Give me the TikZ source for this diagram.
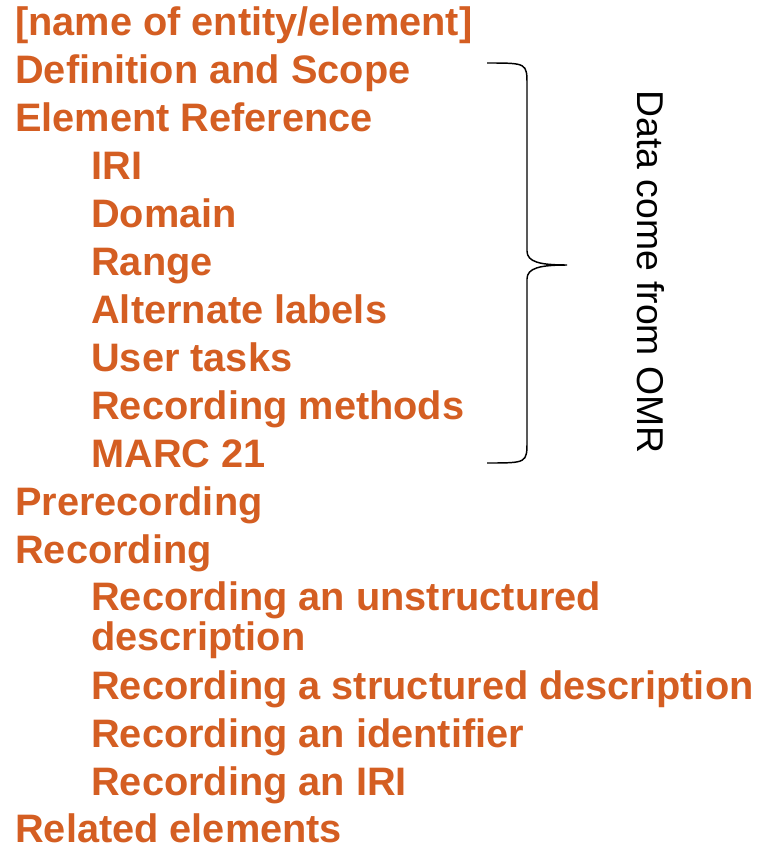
\documentclass[tikz,border=0pt]{standalone}
\usepackage{fontspec}
\setmainfont{Liberation Sans}
\usetikzlibrary{positioning}
\definecolor{omrorange}{HTML}{D45E22}
\definecolor{omrink}{HTML}{000000}
\tikzset{
  omrtext/.style={anchor=base west, inner sep=0pt, text=omrorange,
    font=\fontsize{29.8}{36}\selectfont\bfseries},
  omrwrap/.style={omrtext, align=left,
    font=\fontsize{29.8}{29.3}\selectfont\bfseries},
  omrbrace/.style={draw=omrink, line width=1.1pt},
  omrnote/.style={font=\fontsize{28}{33}\selectfont, text=omrink,
    rotate=-90, inner sep=0pt},
}

\begin{document}
\begin{tikzpicture}[x=0.75pt, y=-0.75pt]
  \useasboundingbox (0,0) rectangle (760,846);
  % top level entries
  \node[omrtext] (name) at (15,35) {[name of entity/element]};
  \node[omrtext] (defscope) at (15,83) {Definition and Scope};
  \node[omrtext] (elemref) at (15,131) {Element Reference};
  % element reference data
  \node[omrtext] (iri) at (91,179) {IRI};
  \node[omrtext] (domain) at (91,227) {Domain};
  \node[omrtext] (range) at (91,275) {Range};
  \node[omrtext] (altlabels) at (91,323) {Alternate labels};
  \node[omrtext] (usertasks) at (91,371) {User tasks};
  \node[omrtext] (recmethods) at (91,419) {Recording methods};
  \node[omrtext] (marc) at (91,467) {MARC 21};
  \node[omrtext] (prerec) at (15,515) {Prerecording};
  \node[omrtext] (rec) at (15,563) {Recording};
  % recording methods
  \node[omrwrap] (recunstr) at (91,650) {Recording an unstructured\\description};
  \node[omrtext] (recstr) at (91,699) {Recording a structured description};
  \node[omrtext] (recid) at (91,747) {Recording an identifier};
  \node[omrtext] (reciri) at (91,795) {Recording an IRI};
  \node[omrtext] (related) at (15,842) {Related elements};
  % brace and note
  \coordinate (bracetop) at (487,63);
  \coordinate (bracetip) at (567,265);
  \coordinate (bracebot) at (487,463);
  \draw[omrbrace] (bracetop) .. controls (527,63) .. (527,85)
    -- (527,251) .. controls (527,262) and (540,265) .. (bracetip)
    .. controls (540,265) and (527,268) .. (527,279)
    -- (527,441) .. controls (527,463) .. (bracebot);
  \node[omrnote] (omrdata) at (651,272) {Data come from OMR};
\end{tikzpicture}
\end{document}
